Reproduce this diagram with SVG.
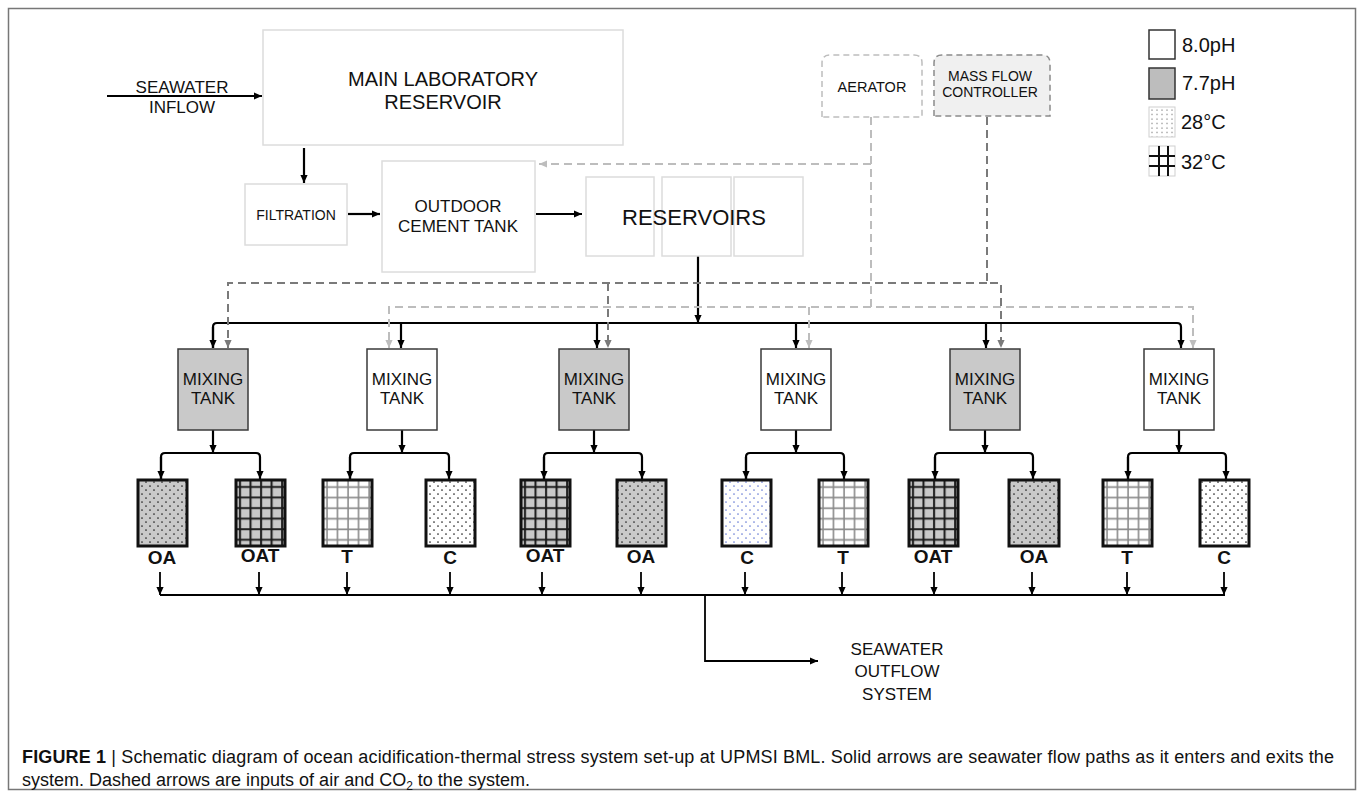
<svg xmlns="http://www.w3.org/2000/svg" width="1358" height="793" viewBox="0 0 1358 793">
<style>
text{font-family:"Liberation Sans",Arial,Helvetica,sans-serif;fill:#111}
.c{text-anchor:middle}
.box{fill:#fff;stroke:#dcdcdc;stroke-width:1.5}
.mix{stroke:#3a3a3a;stroke-width:1.5}
.g{fill:#c9c9c9}
.w{fill:#fff}
.sm{fill:none;stroke:#111;stroke-width:3}
.flow{fill:none;stroke:#000;stroke-width:2.2}
.thin{fill:none;stroke:#000;stroke-width:1.8}
.dk{fill:none;stroke:#7a7a7a;stroke-width:2;stroke-dasharray:8 5}
.lt{fill:none;stroke:#bdbdbd;stroke-width:2;stroke-dasharray:8 5}
.tk{font-size:17px}
.tag{font-size:19px;font-weight:bold}
.leg{font-size:20px}
.cap{font-size:18px}
</style>
<defs>
<marker id="ab" viewBox="0 0 10 10" refX="10" refY="5" markerWidth="8" markerHeight="8" markerUnits="userSpaceOnUse" orient="auto"><path d="M0,0.5L10,5L0,9.5z" fill="#000"/></marker>
<marker id="ad" viewBox="0 0 10 10" refX="10" refY="5" markerWidth="8" markerHeight="8" markerUnits="userSpaceOnUse" orient="auto"><path d="M0,0.5L10,5L0,9.5z" fill="#7a7a7a"/></marker>
<marker id="al" viewBox="0 0 10 10" refX="10" refY="5" markerWidth="8" markerHeight="8" markerUnits="userSpaceOnUse" orient="auto"><path d="M0,0.5L10,5L0,9.5z" fill="#bdbdbd"/></marker>
<pattern id="dots" patternUnits="userSpaceOnUse" width="8" height="8"><circle cx="2" cy="2" r="0.85" fill="#222"/><circle cx="6" cy="6" r="0.85" fill="#222"/></pattern>
<pattern id="bdots" patternUnits="userSpaceOnUse" width="8" height="8"><circle cx="2" cy="2" r="0.85" fill="#6a7fd6"/><circle cx="6" cy="6" r="0.85" fill="#6a7fd6"/></pattern>
<pattern id="ldots" patternUnits="userSpaceOnUse" width="5" height="4.5"><circle cx="2" cy="2" r="0.6" fill="#555"/></pattern>
<pattern id="gridD" patternUnits="objectBoundingBox" width="0.215" height="0.16"><path d="M4,0V11M0,7H11" stroke="#1a1a1a" stroke-width="2" fill="none"/></pattern>
<pattern id="gridL" patternUnits="objectBoundingBox" width="0.215" height="0.16"><path d="M4,0V11M0,7H11" stroke="#8a8a8a" stroke-width="1.6" fill="none"/></pattern>
</defs>

<rect x="8.5" y="8.5" width="1347" height="781" fill="#fff" stroke="#777" stroke-width="1.5"/>

<g id="connectors">
  <path class="flow" d="M107,96H262" marker-end="url(#ab)"/>
  <path class="flow" d="M304,148V183" marker-end="url(#ab)"/>
  <path class="flow" d="M348,214H380" marker-end="url(#ab)"/>
  <path class="flow" d="M536,214H582" marker-end="url(#ab)"/>
  <path class="flow" d="M698,256V323" marker-end="url(#ab)"/>
  <path class="flow" d="M213,348V327Q213,323 217,323H1177Q1181,323 1181,327V348" marker-end="url(#ab)"/>
  <path class="flow" d="M213,327V348" marker-end="url(#ab)"/>
  <path class="flow" d="M401,323V348" marker-end="url(#ab)"/>
  <path class="flow" d="M597,323V348" marker-end="url(#ab)"/>
  <path class="flow" d="M796,323V348" marker-end="url(#ab)"/>
  <path class="flow" d="M986,323V348" marker-end="url(#ab)"/>

  <path class="dk" d="M987,117V283H1001V348" marker-end="url(#ad)"/>
  <path class="dk" d="M987,283H228V348" marker-end="url(#ad)"/>
  <path class="dk" d="M608,283V348" marker-end="url(#ad)"/>
  <path class="lt" d="M871,117V307H1193V348" marker-end="url(#al)"/>
  <path class="lt" d="M871,307H389V348" marker-end="url(#al)"/>
  <path class="lt" d="M809,307V348" marker-end="url(#al)"/>
  <path class="lt" d="M871,164H539" marker-end="url(#al)"/>

  <path class="flow" d="M213,430V453" marker-end="url(#ab)"/>
  <path class="flow" d="M161,479V457Q161,453 165,453H256Q260,453 260,457V479" marker-end="url(#ab)"/>
  <path class="flow" d="M161,457V479" marker-end="url(#ab)"/>
  <path class="flow" d="M402,430V453" marker-end="url(#ab)"/>
  <path class="flow" d="M350,479V457Q350,453 354,453H445Q449,453 449,457V479" marker-end="url(#ab)"/>
  <path class="flow" d="M350,457V479" marker-end="url(#ab)"/>
  <path class="flow" d="M594,430V453" marker-end="url(#ab)"/>
  <path class="flow" d="M544,479V457Q544,453 548,453H638Q642,453 642,457V479" marker-end="url(#ab)"/>
  <path class="flow" d="M544,457V479" marker-end="url(#ab)"/>
  <path class="flow" d="M796,430V453" marker-end="url(#ab)"/>
  <path class="flow" d="M746,479V457Q746,453 750,453H840Q844,453 844,457V479" marker-end="url(#ab)"/>
  <path class="flow" d="M746,457V479" marker-end="url(#ab)"/>
  <path class="flow" d="M985,430V453" marker-end="url(#ab)"/>
  <path class="flow" d="M935,479V457Q935,453 939,453H1029Q1033,453 1033,457V479" marker-end="url(#ab)"/>
  <path class="flow" d="M935,457V479" marker-end="url(#ab)"/>
  <path class="flow" d="M1179,430V453" marker-end="url(#ab)"/>
  <path class="flow" d="M1128,479V457Q1128,453 1132,453H1222Q1226,453 1226,457V479" marker-end="url(#ab)"/>
  <path class="flow" d="M1128,457V479" marker-end="url(#ab)"/>

  <path class="thin" d="M160,595H1225"/>
  <path class="thin" d="M160,572V595" marker-end="url(#ab)"/>
  <path class="thin" d="M259,572V595" marker-end="url(#ab)"/>
  <path class="thin" d="M347,572V595" marker-end="url(#ab)"/>
  <path class="thin" d="M450,572V595" marker-end="url(#ab)"/>
  <path class="thin" d="M542,572V595" marker-end="url(#ab)"/>
  <path class="thin" d="M641,572V595" marker-end="url(#ab)"/>
  <path class="thin" d="M745,572V595" marker-end="url(#ab)"/>
  <path class="thin" d="M842,572V595" marker-end="url(#ab)"/>
  <path class="thin" d="M934,572V595" marker-end="url(#ab)"/>
  <path class="thin" d="M1032,572V595" marker-end="url(#ab)"/>
  <path class="thin" d="M1127,572V595" marker-end="url(#ab)"/>
  <path class="thin" d="M1224,572V595" marker-end="url(#ab)"/>
  <path class="thin" d="M705,595V661H818" marker-end="url(#ab)"/>
</g>

<g id="inflow-label">
  <text class="c tk" x="182" y="93">SEAWATER</text>
  <text class="c tk" x="182" y="113">INFLOW</text>
</g>

<g id="main-reservoir">
  <rect class="box" x="263" y="30" width="360" height="115"/>
  <text class="c" x="443" y="86" font-size="20">MAIN LABORATORY</text>
  <text class="c" x="443" y="109" font-size="20">RESERVOIR</text>
</g>

<g id="filtration">
  <rect class="box" x="245" y="184" width="102" height="61"/>
  <text class="c" x="296" y="220" font-size="14">FILTRATION</text>
</g>

<g id="outdoor-tank">
  <rect class="box" x="382" y="161" width="153" height="111"/>
  <text class="c tk" x="458" y="212">OUTDOOR</text>
  <text class="c tk" x="458" y="232">CEMENT TANK</text>
</g>

<g id="reservoirs">
  <rect class="box" x="586" y="177" width="68" height="79"/>
  <rect class="box" x="662" y="177" width="69" height="79"/>
  <rect class="box" x="734" y="177" width="69" height="79"/>
  <text class="c" x="694" y="225" font-size="22">RESERVOIRS</text>
</g>

<g id="aerator">
  <path d="M822,117V63Q822,55 830,55H914Q922,55 922,63V117Z" fill="#fff" stroke="#bdbdbd" stroke-width="1.5" stroke-dasharray="6 4"/>
  <text class="c" x="872" y="92" font-size="14.5">AERATOR</text>
</g>

<g id="mass-flow-controller">
  <path d="M934,116V63Q934,55 942,55H1042Q1050,55 1050,63V116Z" fill="#f0f0f0" stroke="#8a8a8a" stroke-width="1.5" stroke-dasharray="6 4"/>
  <text class="c" x="990" y="81" font-size="14">MASS FLOW</text>
  <text class="c" x="990" y="97" font-size="14">CONTROLLER</text>
</g>

<g id="mixing-tank-1"><rect class="mix g" x="178" y="349" width="70" height="81"/><text class="c tk" x="213" y="385">MIXING</text><text class="c tk" x="213" y="404">TANK</text></g>
<g id="mixing-tank-2"><rect class="mix w" x="367" y="349" width="70" height="81"/><text class="c tk" x="402" y="385">MIXING</text><text class="c tk" x="402" y="404">TANK</text></g>
<g id="mixing-tank-3"><rect class="mix g" x="559" y="349" width="70" height="81"/><text class="c tk" x="594" y="385">MIXING</text><text class="c tk" x="594" y="404">TANK</text></g>
<g id="mixing-tank-4"><rect class="mix w" x="761" y="349" width="70" height="81"/><text class="c tk" x="796" y="385">MIXING</text><text class="c tk" x="796" y="404">TANK</text></g>
<g id="mixing-tank-5"><rect class="mix g" x="950" y="349" width="70" height="81"/><text class="c tk" x="985" y="385">MIXING</text><text class="c tk" x="985" y="404">TANK</text></g>
<g id="mixing-tank-6"><rect class="mix w" x="1144" y="349" width="70" height="81"/><text class="c tk" x="1179" y="385">MIXING</text><text class="c tk" x="1179" y="404">TANK</text></g>

<g id="tank-oa-1"><rect class="g" x="138" y="480" width="49" height="66"/><rect x="138" y="480" width="49" height="66" fill="url(#dots)"/><rect class="sm" x="138" y="480" width="49" height="66"/><text class="c tag" x="162" y="564">OA</text></g>
<g id="tank-oat-1"><rect class="g" x="236" y="480" width="49" height="66"/><rect x="236" y="480" width="49" height="66" fill="url(#gridD)"/><rect class="sm" x="236" y="480" width="49" height="66"/><text class="c tag" x="260" y="562">OAT</text></g>
<g id="tank-t-1"><rect class="w" x="323" y="480" width="49" height="66"/><rect x="323" y="480" width="49" height="66" fill="url(#gridL)"/><rect class="sm" x="323" y="480" width="49" height="66"/><text class="c tag" x="347" y="563">T</text></g>
<g id="tank-c-1"><rect class="w" x="426" y="480" width="49" height="66"/><rect x="426" y="480" width="49" height="66" fill="url(#dots)"/><rect class="sm" x="426" y="480" width="49" height="66"/><text class="c tag" x="450" y="564">C</text></g>
<g id="tank-oat-2"><rect class="g" x="521" y="480" width="49" height="66"/><rect x="521" y="480" width="49" height="66" fill="url(#gridD)"/><rect class="sm" x="521" y="480" width="49" height="66"/><text class="c tag" x="545" y="562">OAT</text></g>
<g id="tank-oa-2"><rect class="g" x="617" y="480" width="49" height="66"/><rect x="617" y="480" width="49" height="66" fill="url(#dots)"/><rect class="sm" x="617" y="480" width="49" height="66"/><text class="c tag" x="641" y="563">OA</text></g>
<g id="tank-c-2"><rect class="w" x="722" y="480" width="49" height="66"/><rect x="722" y="480" width="49" height="66" fill="url(#bdots)"/><rect class="sm" x="722" y="480" width="49" height="66"/><text class="c tag" x="747" y="564">C</text></g>
<g id="tank-t-2"><rect class="w" x="819" y="480" width="49" height="66"/><rect x="819" y="480" width="49" height="66" fill="url(#gridL)"/><rect class="sm" x="819" y="480" width="49" height="66"/><text class="c tag" x="843" y="564">T</text></g>
<g id="tank-oat-3"><rect class="g" x="909" y="480" width="49" height="66"/><rect x="909" y="480" width="49" height="66" fill="url(#gridD)"/><rect class="sm" x="909" y="480" width="49" height="66"/><text class="c tag" x="933" y="563">OAT</text></g>
<g id="tank-oa-3"><rect class="g" x="1009" y="480" width="50" height="66"/><rect x="1009" y="480" width="50" height="66" fill="url(#dots)"/><rect class="sm" x="1009" y="480" width="50" height="66"/><text class="c tag" x="1034" y="563">OA</text></g>
<g id="tank-t-3"><rect class="w" x="1103" y="480" width="49" height="66"/><rect x="1103" y="480" width="49" height="66" fill="url(#gridL)"/><rect class="sm" x="1103" y="480" width="49" height="66"/><text class="c tag" x="1127" y="564">T</text></g>
<g id="tank-c-3"><rect class="w" x="1200" y="480" width="49" height="66"/><rect x="1200" y="480" width="49" height="66" fill="url(#dots)"/><rect class="sm" x="1200" y="480" width="49" height="66"/><text class="c tag" x="1224" y="564">C</text></g>

<g id="outflow-label">
  <text class="c tk" x="897" y="655">SEAWATER</text>
  <text class="c tk" x="897" y="677">OUTFLOW</text>
  <text class="c tk" x="897" y="700">SYSTEM</text>
</g>

<g id="legend">
  <rect x="1149" y="30" width="26" height="29" fill="#fff" stroke="#333" stroke-width="1.5"/>
  <text class="leg" x="1182" y="52">8.0pH</text>
  <rect x="1149" y="68" width="26" height="31" fill="#bdbdbd" stroke="#333" stroke-width="1.5"/>
  <text class="leg" x="1182" y="90">7.7pH</text>
  <rect x="1149" y="107" width="26" height="30" fill="url(#ldots)" stroke="#cfcfcf" stroke-width="1"/>
  <text class="leg" x="1181" y="129">28°C</text>
  <rect x="1149" y="146" width="26" height="30" fill="#fff" stroke="#cfcfcf" stroke-width="1"/>
  <path d="M1159,146V176M1168,146V176M1149,156H1175M1149,166H1175" stroke="#111" stroke-width="2" fill="none"/>
  <text class="leg" x="1181" y="169">32°C</text>
</g>

<g id="caption">
  <text class="cap" x="22" y="763" textLength="1312" lengthAdjust="spacing"><tspan font-weight="bold">FIGURE 1</tspan> | Schematic diagram of ocean acidification-thermal stress system set-up at UPMSI BML. Solid arrows are seawater flow paths as it enters and exits the</text>
  <text class="cap" x="22" y="786">system. Dashed arrows are inputs of air and CO<tspan font-size="12" dy="4">2</tspan><tspan dy="-4"> to the system.</tspan></text>
</g>
</svg>
